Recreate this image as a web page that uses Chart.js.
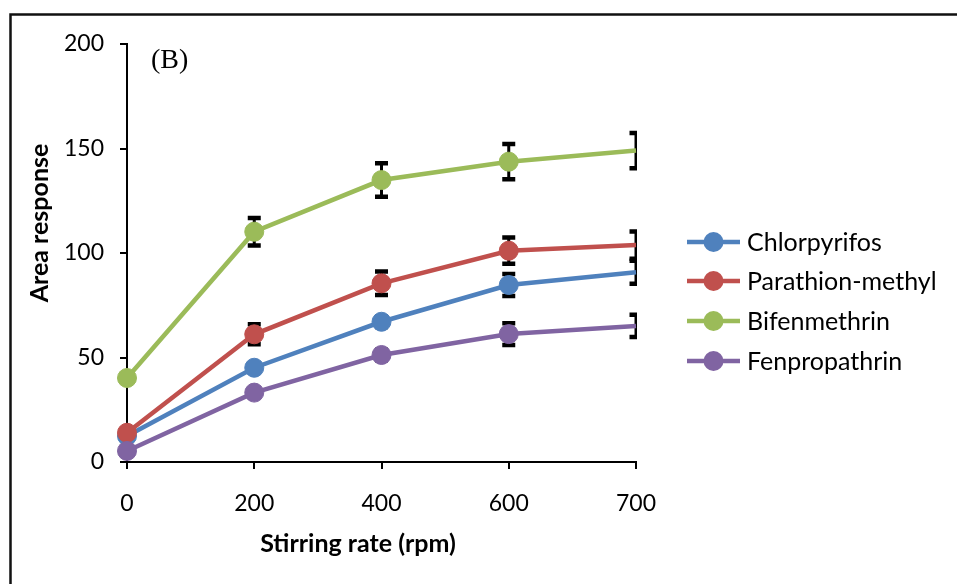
<!DOCTYPE html>
<html>
<head>
<meta charset="utf-8">
<script src="https://cdn.jsdelivr.net/npm/chart.js@4/dist/chart.umd.min.js"></script>
<style>
  html, body { margin: 0; padding: 0; background: #fff; }
  #wrap { position: relative; width: 957px; height: 584px; }
</style>
</head>
<body>
<div id="wrap"><canvas id="c" width="957" height="584"></canvas></div>
<script>
// ---- data ----
const categories = ['0', '200', '400', '600', '700'];
const seriesNames = ['Chlorpyrifos', 'Parathion-methyl', 'Bifenmethrin', 'Fenpropathrin'];
const chlorpyrifos    = [12.4, 45.1, 67.1, 84.7, 90.8];
const parathionMethyl = [14.0, 61.1, 85.5, 101.1, 103.8];
const bifenmethrin    = [40.2, 110.2, 134.9, 143.7, 149.0];
const fenpropathrin   = [5.3, 33.2, 51.2, 61.2, 65.1];
const errChlorpyrifos    = [0.5, 2.0, 2.5, 5.3, 5.5];
const errParathionMethyl = [0.5, 4.8, 5.6, 6.3, 6.5];
const errBifenmethrin    = [0.5, 6.6, 8.0, 8.4, 8.4];
const errFenpropathrin   = [0.5, 2.0, 2.5, 5.2, 5.3];
const yTicks = [0, 50, 100, 150, 200];
const xTitle = 'Stirring rate (rpm)';
const yTitle = 'Area response';
const panelLabel = '(B)';

const colors = ['#4F81BD', '#C0504D', '#9BBB59', '#8064A2'];
const values = [chlorpyrifos, parathionMethyl, bifenmethrin, fenpropathrin];
const errors = [errChlorpyrifos, errParathionMethyl, errBifenmethrin, errFenpropathrin];

const FONT = 'Lato';
const R = 9.5;

const datasets = seriesNames.map((name, i) => ({
  label: name,
  data: values[i],
  borderColor: colors[i],
  backgroundColor: colors[i],
  pointBackgroundColor: colors[i],
  pointBorderColor: colors[i],
  pointBorderWidth: 1,
  pointRadius: values[i].map((v, j) => j === values[i].length - 1 ? 0 : R),
  pointHoverRadius: R,
  borderWidth: 4.5,
  tension: 0,
  clip: false,
  order: seriesNames.length - 1 - i,
  errors: errors[i]
}));

const decor = {
  id: 'decor',
  beforeDraw(chart) {
    const ctx = chart.ctx;
    ctx.save();
    ctx.fillStyle = '#fff';
    ctx.fillRect(0, 0, chart.width, chart.height);
    ctx.strokeStyle = '#111';
    ctx.lineWidth = 2.5;
    ctx.strokeRect(10.5, 14.5, 1000, 700);
    ctx.restore();
  },
  beforeDatasetsDraw(chart) {
    const ctx = chart.ctx;
    const xs = chart.scales.x, ys = chart.scales.y;
    const area = chart.chartArea;
    ctx.save();
    ctx.beginPath();
    ctx.rect(0, 0, area.right + 1, chart.height);
    ctx.clip();
    ctx.strokeStyle = '#000';
    chart.data.datasets.forEach(ds => {
      ds.data.forEach((v, j) => {
        const e = ds.errors[j];
        const x = xs.getPixelForValue(j);
        const y1 = ys.getPixelForValue(v + e);
        const y2 = ys.getPixelForValue(v - e);
        ctx.lineWidth = 3;
        ctx.beginPath();
        ctx.moveTo(x, y1); ctx.lineTo(x, y2);
        ctx.stroke();
        ctx.lineWidth = 4.5;
        ctx.beginPath();
        ctx.moveTo(x - 6.5, y1); ctx.lineTo(x + 6.5, y1);
        ctx.moveTo(x - 6.5, y2); ctx.lineTo(x + 6.5, y2);
        ctx.stroke();
      });
    });
    ctx.restore();
  },
  afterDraw(chart) {
    const ctx = chart.ctx;
    ctx.save();
    // panel label
    ctx.fillStyle = '#000';
    ctx.font = '28px "Liberation Serif"';
    ctx.textAlign = 'left';
    ctx.textBaseline = 'middle';
    ctx.fillText(panelLabel, 151, 61);
    // x title
    ctx.font = 'bold 25px ' + FONT;
    ctx.textAlign = 'center';
    ctx.fillText(xTitle, 358, 544);
    // y title
    ctx.save();
    ctx.translate(40, 223);
    ctx.rotate(-Math.PI / 2);
    ctx.fillText(yTitle, 0, 0);
    ctx.restore();
    // legend
    const rows = [242, 281, 321, 361];
    chart.data.datasets.forEach((ds, i) => {
      const y = rows[i];
      ctx.strokeStyle = ds.borderColor;
      ctx.lineWidth = 4.5;
      ctx.beginPath();
      ctx.moveTo(687, y); ctx.lineTo(740, y);
      ctx.stroke();
      ctx.fillStyle = ds.borderColor;
      ctx.beginPath();
      ctx.arc(713.5, y, 10, 0, Math.PI * 2);
      ctx.fill();
      ctx.fillStyle = '#000';
      ctx.font = '25px ' + FONT;
      ctx.textAlign = 'left';
      ctx.textBaseline = 'middle';
      ctx.fillText(ds.label, 747, y + 1);
    });
    ctx.restore();
  }
};

new Chart(document.getElementById('c'), {
  type: 'line',
  data: { labels: categories, datasets },
  options: {
    responsive: false,
    animation: false,
    devicePixelRatio: 1,
    layout: { padding: { left: 0, top: 44, right: 321, bottom: 0 } },
    plugins: { legend: { display: false }, tooltip: { enabled: false } },
    scales: {
      x: {
        type: 'category',
        offset: false,
        grid: { drawOnChartArea: false, drawTicks: true, tickLength: 7, color: '#000', lineWidth: 2 },
        border: { display: true, color: '#000', width: 2 },
        ticks: { color: '#000', font: { family: FONT, size: 23 }, padding: 21, maxRotation: 0, autoSkip: false },
        afterFit(s) { s.height = 584 - 462; }
      },
      y: {
        min: 0, max: 200,
        afterBuildTicks(s) { s.ticks = yTicks.map(v => ({ value: v })); },
        grid: { drawOnChartArea: false, drawTicks: true, tickLength: 7, color: '#000', lineWidth: 2 },
        border: { display: true, color: '#000', width: 2 },
        ticks: { color: '#000', font: { family: FONT, size: 23 }, padding: 16 },
        afterFit(s) { s.width = 127; }
      }
    }
  },
  plugins: [decor]
});
</script>
</body>
</html>
